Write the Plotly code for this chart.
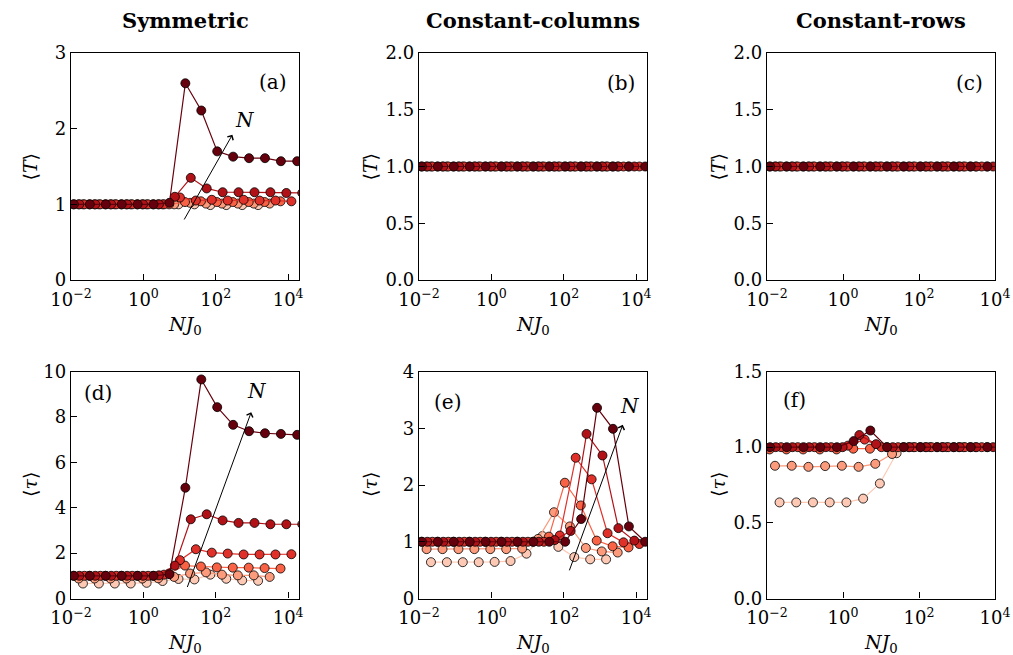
import plotly.graph_objects as go

W, H = 1013, 655
FONT = "DejaVu Serif"

# log10(N J0) sampling points, one list per system size (smallest N first)
logx_N1 = [-1.67, -1.23, -0.79, -0.35, 0.09, 0.53, 0.97, 1.41, 1.85, 2.29, 2.73, 3.17]
logx_N2 = [-1.79, -1.35, -0.91, -0.47, -0.03, 0.41, 0.85, 1.29, 1.73, 2.17, 2.61, 3.05, 3.49]
logx_N3 = [-1.93, -1.49, -1.05, -0.61, -0.17, 0.27, 0.71, 1.15, 1.59, 2.03, 2.47, 2.91, 3.35, 3.79]
logx_N4 = [-2.07, -1.63, -1.19, -0.75, -0.31, 0.13, 0.57, 1.01, 1.45, 1.89, 2.33, 2.77, 3.21, 3.65, 4.09]
logx_N5 = [-1.77, -1.33, -0.89, -0.45, -0.01, 0.43, 0.87, 1.31, 1.75, 2.19, 2.63, 3.07, 3.51, 3.95, 4.39]
logx_N6 = [-1.92, -1.48, -1.04, -0.60, -0.16, 0.28, 0.72, 1.16, 1.60, 2.04, 2.48, 2.92, 3.36, 3.80, 4.25]
logx_all = [logx_N1, logx_N2, logx_N3, logx_N4, logx_N5, logx_N6]

# colours for increasing N (light to dark reds)
colors = ["#fdc9b4", "#fc9a7c", "#f96245", "#e0302a", "#b11218", "#67000d"]

# (a) symmetric, <T>
sym_T = [
    [1.0, 1.0, 1.0, 1.0, 1.0, 1.0, 1.0, 1.0, 0.99, 0.99, 0.99, 0.99],
    [1.0, 1.0, 1.0, 1.0, 1.0, 1.0, 1.0, 1.02, 1.01, 1.01, 1.01, 1.01, 1.01],
    [1.0, 1.0, 1.0, 1.0, 1.0, 1.0, 1.0, 1.03, 1.04, 1.03, 1.03, 1.03, 1.03, 1.04],
    [1.0, 1.0, 1.0, 1.0, 1.0, 1.0, 1.0, 1.09, 1.05, 1.06, 1.05, 1.06, 1.05, 1.05, 1.04],
    [1.0, 1.0, 1.0, 1.0, 1.0, 1.0, 1.10, 1.35, 1.21, 1.16, 1.16, 1.16, 1.16, 1.15, 1.15],
    [1.0, 1.0, 1.0, 1.0, 1.0, 1.0, 1.02, 2.60, 2.24, 1.70, 1.63, 1.61, 1.61, 1.57, 1.57],
]

# (b) constant-columns, <T>
colcon_T = [
    [1.0, 1.0, 1.0, 1.0, 1.0, 1.0, 1.0, 1.0, 1.0, 1.0, 1.0, 1.0],
    [1.0, 1.0, 1.0, 1.0, 1.0, 1.0, 1.0, 1.0, 1.0, 1.0, 1.0, 1.0, 1.0],
    [1.0, 1.0, 1.0, 1.0, 1.0, 1.0, 1.0, 1.0, 1.0, 1.0, 1.0, 1.0, 1.0, 1.0],
    [1.0, 1.0, 1.0, 1.0, 1.0, 1.0, 1.0, 1.0, 1.0, 1.0, 1.0, 1.0, 1.0, 1.0, 1.0],
    [1.0, 1.0, 1.0, 1.0, 1.0, 1.0, 1.0, 1.0, 1.0, 1.0, 1.0, 1.0, 1.0, 1.0, 1.0],
    [1.0, 1.0, 1.0, 1.0, 1.0, 1.0, 1.0, 1.0, 1.0, 1.0, 1.0, 1.0, 1.0, 1.0, 1.0],
]

# (c) constant-rows, <T>
rowcon_T = [
    [1.0, 1.0, 1.0, 1.0, 1.0, 1.0, 1.0, 1.0, 1.0, 1.0, 1.0, 1.0],
    [1.0, 1.0, 1.0, 1.0, 1.0, 1.0, 1.0, 1.0, 1.0, 1.0, 1.0, 1.0, 1.0],
    [1.0, 1.0, 1.0, 1.0, 1.0, 1.0, 1.0, 1.0, 1.0, 1.0, 1.0, 1.0, 1.0, 1.0],
    [1.0, 1.0, 1.0, 1.0, 1.0, 1.0, 1.0, 1.0, 1.0, 1.0, 1.0, 1.0, 1.0, 1.0, 1.0],
    [1.0, 1.0, 1.0, 1.0, 1.0, 1.0, 1.0, 1.0, 1.0, 1.0, 1.0, 1.0, 1.0, 1.0, 1.0],
    [1.0, 1.0, 1.0, 1.0, 1.0, 1.0, 1.0, 1.0, 1.0, 1.0, 1.0, 1.0, 1.0, 1.0, 1.0],
]

# (d) symmetric, <tau>
sym_tau = [
    [0.66, 0.66, 0.66, 0.66, 0.69, 0.77, 0.86, 0.84, 1.05, 0.87, 0.80, 0.78],
    [0.88, 0.88, 0.88, 0.88, 0.88, 0.89, 0.95, 1.10, 1.15, 1.05, 1.02, 1.02, 0.95],
    [1.0, 1.0, 1.0, 1.0, 1.0, 1.0, 1.10, 1.45, 1.41, 1.37, 1.36, 1.36, 1.34, 1.32],
    [1.0, 1.0, 1.0, 1.0, 1.0, 1.0, 1.05, 1.69, 2.17, 2.02, 1.98, 1.94, 1.94, 1.94, 1.95],
    [1.0, 1.0, 1.0, 1.0, 1.0, 1.02, 1.45, 3.49, 3.71, 3.44, 3.33, 3.33, 3.27, 3.27, 3.27],
    [1.0, 1.0, 1.0, 1.0, 1.0, 1.0, 1.07, 4.88, 9.65, 8.43, 7.65, 7.37, 7.28, 7.25, 7.21],
]

# (e) constant-columns, <tau>
colcon_tau = [
    [0.64, 0.64, 0.64, 0.64, 0.645, 0.66, 0.79, 1.10, 0.91, 0.73, 0.69, 0.69],
    [0.87, 0.87, 0.87, 0.87, 0.87, 0.87, 0.88, 1.05, 1.52, 1.27, 0.89, 0.83, 0.81],
    [1.0, 1.0, 1.0, 1.0, 1.0, 1.0, 1.0, 1.0, 1.09, 2.04, 1.64, 1.02, 0.92, 0.90],
    [1.0, 1.0, 1.0, 1.0, 1.0, 1.0, 1.0, 1.0, 1.0, 1.11, 2.48, 2.10, 1.15, 0.99, 0.96],
    [1.0, 1.0, 1.0, 1.0, 1.0, 1.0, 1.0, 1.0, 1.03, 1.19, 2.90, 2.52, 1.24, 1.02, 1.0],
    [1.0, 1.0, 1.0, 1.0, 1.0, 1.0, 1.0, 1.0, 1.0, 1.0, 1.40, 3.36, 2.99, 1.27, 1.0],
]

# (f) constant-rows, <tau>
rowcon_tau = [
    [0.635, 0.635, 0.635, 0.635, 0.635, 0.66, 0.76, 0.96, 1.0, 1.0, 1.0, 1.0],
    [0.877, 0.877, 0.87, 0.875, 0.877, 0.87, 0.89, 0.955, 1.0, 1.0, 1.0, 1.0, 1.0],
    [0.985, 0.985, 0.985, 0.985, 0.985, 0.99, 0.99, 1.0, 1.0, 1.0, 1.0, 1.0, 1.0, 1.0],
    [1.0, 1.0, 1.0, 1.0, 1.0, 1.01, 1.05, 1.0, 1.0, 1.0, 1.0, 1.0, 1.0, 1.0, 1.0],
    [1.0, 1.0, 1.0, 1.0, 1.0, 1.08, 1.02, 1.0, 1.0, 1.0, 1.0, 1.0, 1.0, 1.0, 1.0],
    [1.0, 1.0, 1.0, 1.0, 1.0, 1.04, 1.11, 1.0, 1.0, 1.0, 1.0, 1.0, 1.0, 1.0, 1.0],
]

column_titles = ["Symmetric", "Constant-columns", "Constant-rows"]
panel_letters = ["(a)", "(b)", "(c)", "(d)", "(e)", "(f)"]

x_tickvals = [1e-2, 1e0, 1e2, 1e4]
x_ticktext = ["10<sup>\u22122</sup>", "10<sup>0</sup>", "10<sup>2</sup>", "10<sup>4</sup>"]

# panel frames in pixels: (left, right), (top, bottom)
col_px = [(71, 299), (419, 647), (767, 995)]
row_px = [(53, 280), (371.5, 598.5)]

panels = [
    dict(data=sym_T, xr=[-2, 4.3], yr=[0, 3], yt=[0, 1, 2, 3], yl=["0", "1", "2", "3"]),
    dict(data=colcon_T, xr=[-2, 4.3], yr=[0, 2], yt=[0, 0.5, 1, 1.5, 2], yl=["0.0", "0.5", "1.0", "1.5", "2.0"]),
    dict(data=rowcon_T, xr=[-2, 4.0], yr=[0, 2], yt=[0, 0.5, 1, 1.5, 2], yl=["0.0", "0.5", "1.0", "1.5", "2.0"]),
    dict(data=sym_tau, xr=[-2, 4.3], yr=[0, 10], yt=[0, 2, 4, 6, 8, 10], yl=["0", "2", "4", "6", "8", "10"]),
    dict(data=colcon_tau, xr=[-2, 4.3], yr=[0, 4], yt=[0, 1, 2, 3, 4], yl=["0", "1", "2", "3", "4"]),
    dict(data=rowcon_tau, xr=[-2, 4.0], yr=[0, 1.5], yt=[0, 0.5, 1, 1.5], yl=["0.0", "0.5", "1.0", "1.5"]),
]


def paper(xp, yp):
    return xp / W, 1 - yp / H


fig = go.Figure()
layout = dict(
    width=W, height=H, margin=dict(l=0, r=0, t=0, b=0, autoexpand=False),
    paper_bgcolor="white", plot_bgcolor="white", showlegend=False,
    font=dict(family=FONT, size=18, color="black"),
)

for i, p in enumerate(panels):
    r, c = divmod(i, 3)
    n = i + 1
    xa = "x" if n == 1 else f"x{n}"
    ya = "y" if n == 1 else f"y{n}"
    (l, rr), (t, b) = col_px[c], row_px[r]
    axis_common = dict(
        showline=True, linecolor="black", linewidth=1.4, mirror=True,
        ticks="inside", ticklen=6, tickwidth=1.2, tickcolor="black",
        showgrid=False, zeroline=False, automargin=False,
        tickfont=dict(family=FONT, size=18),
    )
    layout["xaxis" if n == 1 else f"xaxis{n}"] = dict(
        axis_common, type="log", range=p["xr"], domain=[l / W, rr / W],
        anchor=ya, tickvals=x_tickvals, ticktext=x_ticktext, ticklabelstandoff=3,
    )
    layout["yaxis" if n == 1 else f"yaxis{n}"] = dict(
        axis_common, range=p["yr"], domain=[1 - b / H, 1 - t / H],
        anchor=xa, tickvals=p["yt"], ticktext=p["yl"],
    )
    for k, (lx, yv) in enumerate(zip(logx_all, p["data"])):
        fig.add_trace(go.Scatter(
            x=[10 ** v for v in lx], y=yv, mode="lines+markers",
            xaxis=xa, yaxis=ya,
            line=dict(color=colors[k], width=1.2),
            marker=dict(size=9, color=colors[k], line=dict(color="black", width=0.8)),
            hoverinfo="skip",
        ))

fig.update_layout(**layout)

annotations = []


def text_note(xp, yp, text, size, angle=0):
    px_, py_ = paper(xp, yp)
    return dict(x=px_, y=py_, xref="paper", yref="paper", text=text, showarrow=False,
                xanchor="center", yanchor="middle", textangle=angle,
                font=dict(family=FONT, size=size))


# column titles
for c, title in enumerate(column_titles):
    cx = (col_px[c][0] + col_px[c][1]) / 2
    annotations.append(text_note(cx, 20, f"<b>{title}</b>", 21))

# axis titles
for i in range(6):
    r, c = divmod(i, 3)
    (l, rr), (t, b) = col_px[c], row_px[r]
    annotations.append(text_note((l + rr) / 2, b + 45, "<i>NJ</i><sub>0</sub>", 19))
    ylab = "\u27e8<i>T</i>\u27e9" if r == 0 else "\u27e8<i>\u03c4</i>\u27e9"
    ylx = l - (41 if c == 0 else 49)
    annotations.append(text_note(ylx, (t + b) / 2, ylab, 19, angle=-90))

# panel letters
letter_px = [(273, 82), (621, 83), (969, 83), (98, 393), (447, 402), (794, 400)]
for lab, (lx, ly) in zip(panel_letters, letter_px):
    annotations.append(text_note(lx, ly, lab, 20))

# "N" arrows (data coordinates; x in log10 units)
arrows = [
    ("x", "y", (1.105, 0.78), (2.46, 1.92), (2.81, 2.12)),
    ("x4", "y4", (1.20, 0.44), (2.98, 8.21), (3.14, 9.12)),
    ("x5", "y5", (2.14, 0.47), (3.63, 3.06), (3.82, 3.40)),
]
for xr_, yr_, tail, head, lab in arrows:
    annotations.append(dict(x=head[0], y=head[1], ax=tail[0], ay=tail[1],
                            xref=xr_, yref=yr_, axref=xr_, ayref=yr_, text="",
                            showarrow=True, arrowhead=4, arrowsize=1.3, arrowwidth=1,
                            arrowcolor="black"))
    annotations.append(dict(x=lab[0], y=lab[1], xref=xr_, yref=yr_, text="<i>N</i>",
                            showarrow=False, xanchor="center", yanchor="middle",
                            font=dict(family=FONT, size=20)))

fig.update_layout(annotations=annotations)
fig.write_html("out.html")
